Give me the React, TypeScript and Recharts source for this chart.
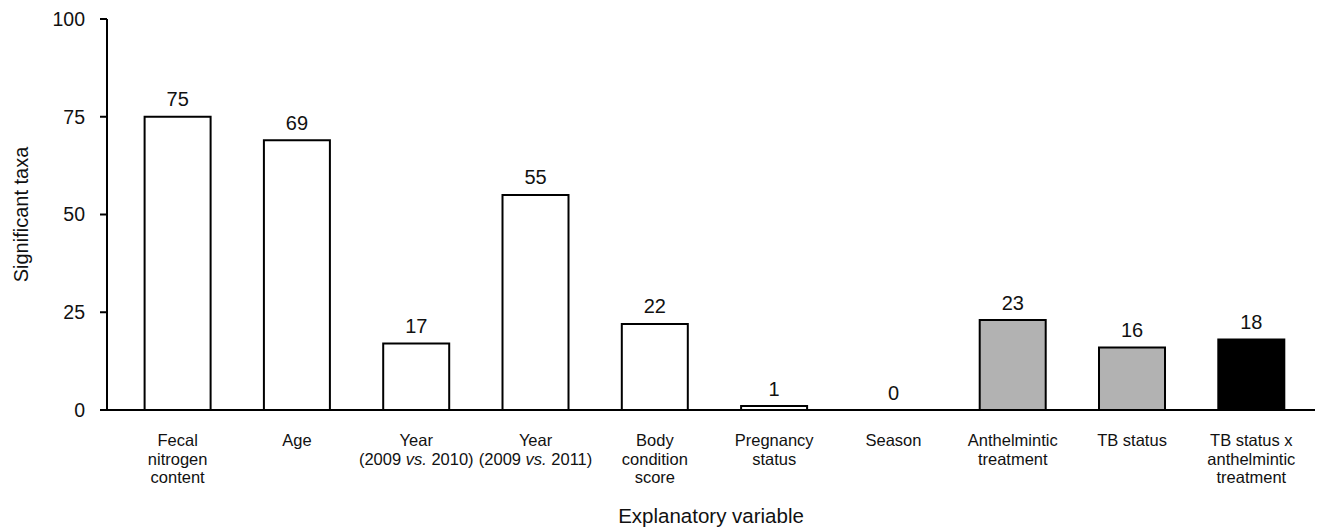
import React from 'react';
import { ComposedChart, Bar, Line, XAxis, YAxis, LabelList, Cell, Label } from 'recharts';

const categories = [
  'Fecal\nnitrogen\ncontent',
  'Age',
  'Year\n(2009 vs. 2010)',
  'Year\n(2009 vs. 2011)',
  'Body\ncondition\nscore',
  'Pregnancy\nstatus',
  'Season',
  'Anthelmintic\ntreatment',
  'TB status',
  'TB status x\nanthelmintic\ntreatment',
];
const values = [75, 69, 17, 55, 22, 1, 0, 23, 16, 18];
const groups = ['host', 'host', 'host', 'host', 'host', 'host', 'host', 'treatment', 'treatment', 'interaction'];
const yTicks = [0, 25, 50, 75, 100];
const groupFill: Record<string, string> = { host: '#ffffff', treatment: '#b2b2b2', interaction: '#000000' };

const data = categories.map((c, i) => ({ name: c, value: values[i], group: groups[i] }));

const FONT = '"Liberation Sans", Arial, sans-serif';

const XTick = (props: any) => {
  const { x, y, payload } = props;
  const lines: string[] = String(payload.value).split('\n');
  return (
    <text x={x} y={y} textAnchor="middle" fontFamily={FONT} fontSize={16.5} fill="#111" style={{ whiteSpace: 'pre' }}>
      {lines.map((ln, i) => {
        const parts = ln.split(' vs. ');
        return (
          <tspan key={i} x={x} dy={i === 0 ? 34 : 18.5}>
            {parts.length > 1 ? (
              <>
                {parts[0] + ' '}
                <tspan fontStyle="italic">vs.</tspan>
                {' ' + parts[1]}
              </>
            ) : (
              ln
            )}
          </tspan>
        );
      })}
    </text>
  );
};

const YLabel = (props: any) => {
  const vb = props.viewBox || {};
  const cy = vb.y + vb.height / 2;
  const cx = 28;
  return (
    <text x={cx} y={cy} transform={`rotate(-90, ${cx}, ${cy})`} textAnchor="middle" fontFamily={FONT} fontSize={20} fill="#111">
      Significant taxa
    </text>
  );
};

export default function App() {
  return (
    <div style={{ position: 'fixed', left: 0, top: 0, width: 1323, height: 530, background: '#fff' }}>
      <ComposedChart
        width={1323}
        height={530}
        data={data}
        margin={{ top: 19, right: 8, bottom: 7, left: 0 }}
        barCategoryGap="22.3%"
      >
        <XAxis
          dataKey="name"
          interval={0}
          tick={<XTick />}
          tickLine={false}
          tickSize={0}
          height={113}
          axisLine={{ stroke: '#000', strokeWidth: 2 }}
          padding={{ left: 11, right: 4 }}
        >
          <Label
            value="Explanatory variable"
            position="insideBottom"
            offset={0}
            style={{ fontFamily: FONT, fontSize: 20.5, fill: '#111' }}
          />
        </XAxis>
        <YAxis
          width={107}
          domain={[0, 100]}
          ticks={yTicks}
          interval={0}
          tickSize={7}
          tickMargin={15}
          axisLine={{ stroke: '#000', strokeWidth: 2 }}
          tickLine={{ stroke: '#000', strokeWidth: 2 }}
          tick={{ fontFamily: FONT, fontSize: 19.5, fill: '#111' }}
        >
          <Label content={<YLabel />} />
        </YAxis>
        <Bar dataKey="value" stroke="#000" strokeWidth={2} isAnimationActive={false}>
          {data.map((d, i) => (
            <Cell key={i} fill={groupFill[d.group]} />
          ))}
        </Bar>
        <Line dataKey="value" stroke="none" dot={false} activeDot={false} isAnimationActive={false} legendType="none">
          <LabelList
            dataKey="value"
            position="top"
            offset={10.5}
            style={{ fontFamily: FONT, fontSize: 20, fill: '#111' }}
          />
        </Line>
      </ComposedChart>
    </div>
  );
}
